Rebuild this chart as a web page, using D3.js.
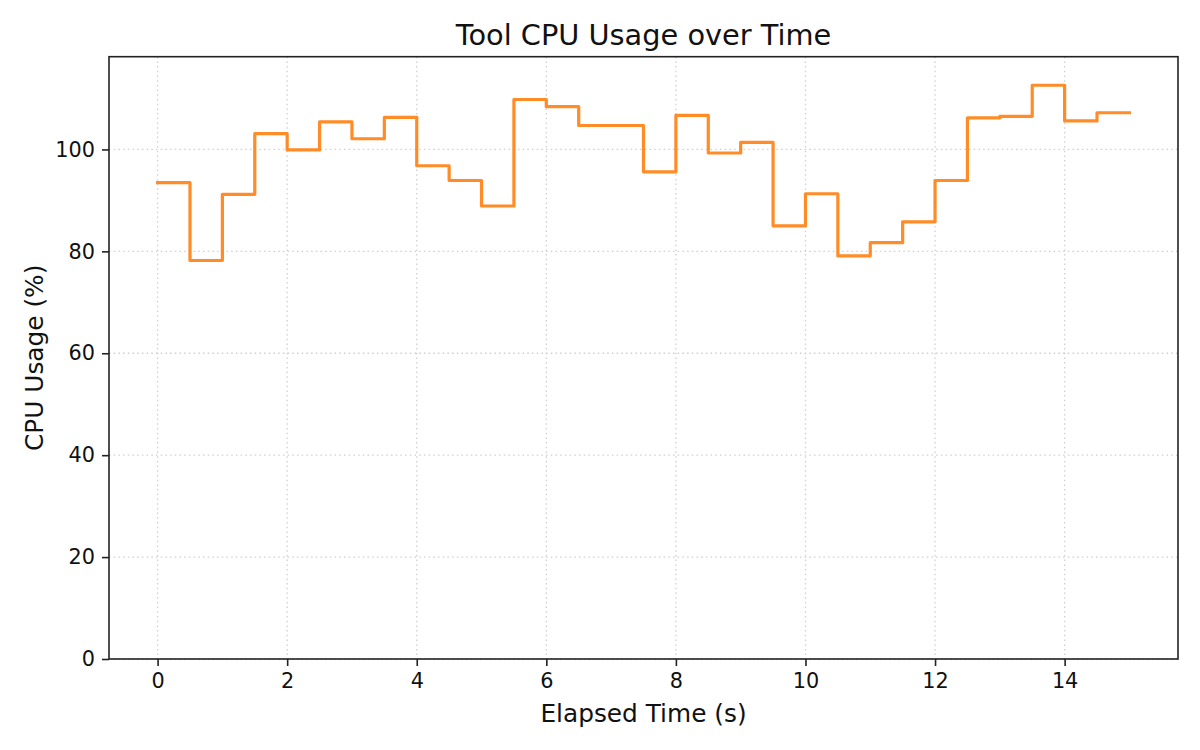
<!DOCTYPE html>
<html>
<head>
<meta charset="utf-8">
<script src="https://cdn.jsdelivr.net/npm/d3@7"></script>
<style>
  body { margin: 0; background: #fff; }
  svg { display: block; font-family: "DejaVu Sans", sans-serif; }
</style>
</head>
<body>
<script>
// elapsed time (s) and cpu usage (%) sampled every 0.5 s
const times = [0, 0.5, 1, 1.5, 2, 2.5, 3, 3.5, 4, 4.5, 5, 5.5, 6, 6.5, 7, 7.5,
  8, 8.5, 9, 9.5, 10, 10.5, 11, 11.5, 12, 12.5, 13, 13.5, 14, 14.5, 15];
const cpu = [93.5, 78.2, 91.2, 103.1, 99.9, 105.4, 102.1, 106.3, 96.8, 93.9, 88.9,
  109.8, 108.4, 104.7, 104.7, 95.6, 106.7, 99.3, 101.4, 85.0, 91.3, 79.1, 81.7,
  85.8, 93.9, 106.2, 106.5, 112.6, 105.6, 107.2, 107.2];
const xTicks = [0, 2, 4, 6, 8, 10, 12, 14];
const yTicks = [0, 20, 40, 60, 80, 100];

const W = 1200, H = 750;
const plot = { left: 109, right: 1178, top: 56.7, bottom: 659 };

const svg = d3.select("body").append("svg")
  .attr("width", W).attr("height", H);

const x = d3.scaleLinear().domain([-0.75, 15.75]).range([plot.left, plot.right]);
const y = d3.scaleLinear().domain([0, 118.2]).range([plot.bottom, plot.top]);

// grid
const grid = svg.append("g");
grid.selectAll(".gx").data(xTicks).enter().append("line")
  .attr("x1", d => x(d)).attr("x2", d => x(d))
  .attr("y1", plot.top).attr("y2", plot.bottom)
  .attr("stroke", "#cfcfcf").attr("stroke-width", 1.3)
  .attr("stroke-dasharray", "1.5,3.2");
grid.selectAll(".gy").data(yTicks).enter().append("line")
  .attr("x1", plot.left).attr("x2", plot.right)
  .attr("y1", d => y(d)).attr("y2", d => y(d))
  .attr("stroke", "#cfcfcf").attr("stroke-width", 1.3)
  .attr("stroke-dasharray", "1.5,3.2");

// step line
const line = d3.line()
  .x((d, i) => x(times[i]))
  .y(d => y(d))
  .curve(d3.curveStepAfter);

svg.append("path")
  .datum(cpu)
  .attr("d", line)
  .attr("fill", "none")
  .attr("stroke", "#ff7f0e")
  .attr("stroke-opacity", 0.9)
  .attr("stroke-width", 3.2)
  .attr("stroke-linejoin", "round")
  .attr("stroke-linecap", "square");

// axes
const xAxis = svg.append("g")
  .attr("transform", `translate(0,${plot.bottom})`)
  .call(d3.axisBottom(x).tickValues(xTicks).tickSize(7).tickPadding(7).tickSizeOuter(0));
const yAxis = svg.append("g")
  .attr("transform", `translate(${plot.left},0)`)
  .call(d3.axisLeft(y).tickValues(yTicks).tickSize(7).tickPadding(7).tickSizeOuter(0));

[xAxis, yAxis].forEach(g => {
  g.select(".domain").remove();
  g.selectAll(".tick line").attr("stroke", "#222").attr("stroke-width", 1.6);
  g.selectAll(".tick text").attr("fill", "#111")
    .style("font-size", "20.8px").style("font-family", "DejaVu Sans");
});

// frame
svg.append("rect")
  .attr("x", plot.left).attr("y", plot.top)
  .attr("width", plot.right - plot.left).attr("height", plot.bottom - plot.top)
  .attr("fill", "none").attr("stroke", "#222").attr("stroke-width", 1.6);

// labels
svg.append("text")
  .attr("x", (plot.left + plot.right) / 2).attr("y", 45)
  .attr("text-anchor", "middle")
  .style("font-size", "28.8px").attr("fill", "#111")
  .text("Tool CPU Usage over Time");

svg.append("text")
  .attr("x", (plot.left + plot.right) / 2).attr("y", 722)
  .attr("text-anchor", "middle")
  .style("font-size", "24.8px").attr("fill", "#111")
  .text("Elapsed Time (s)");

svg.append("text")
  .attr("transform", `translate(43,${(plot.top + plot.bottom) / 2}) rotate(-90)`)
  .attr("text-anchor", "middle")
  .style("font-size", "24.8px").attr("fill", "#111")
  .text("CPU Usage (%)");
</script>
</body>
</html>
